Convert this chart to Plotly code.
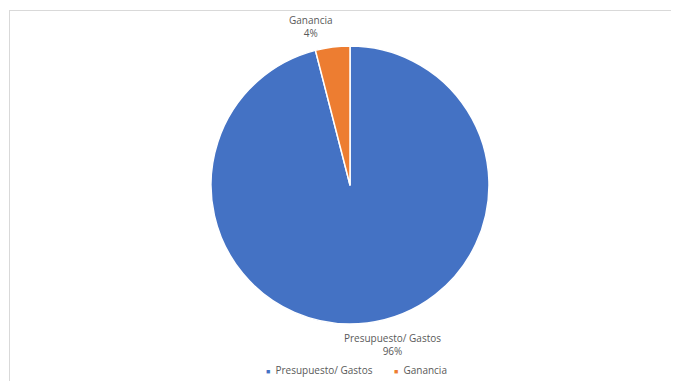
import plotly.graph_objects as go

labels = ["Presupuesto/ Gastos", "Ganancia"]
values = [96, 4]
colors = ["#4472C4", "#ED7D31"]

OFF = 8  # default page body margin
W, H = 679 - OFF, 381 - OFF
total = sum(values)
pcts = [f"{round(v / total * 100)}%" for v in values]


def px(x):
    return (x - OFF) / W


def py(y):
    return 1 - (y - OFF) / H


cx, cy, r = 350, 185, 139
fig = go.Figure(go.Pie(
    labels=labels,
    values=values,
    sort=False,
    direction="clockwise",
    rotation=0,
    marker=dict(colors=colors, line=dict(color="white", width=1.5)),
    textinfo="none",
    hoverinfo="label+percent",
    showlegend=False,
    domain=dict(x=[px(cx - r), px(cx + r)], y=[py(cy + r), py(cy - r)]),
))

font_color = "#595959"
fam = "Open Sans, Liberation Sans, sans-serif"
label_pos = [(392, 344), (311, 26)]
annotations = []
for lab, p, (lx, ly) in zip(labels, pcts, label_pos):
    annotations.append(dict(
        x=px(lx), y=py(ly), xref="paper", yref="paper",
        text=f"{lab}<br>{p}", showarrow=False,
        font=dict(family=fam, size=10, color=font_color),
        align="center", xanchor="center", yanchor="middle",
    ))

# legend entries (small square markers as in the original)
legend_x = [264, 392]
for lab, col, lx in zip(labels, colors, legend_x):
    annotations.append(dict(
        x=px(lx), y=py(370), xref="paper", yref="paper",
        text=f"<span style='color:{col};font-size:7px'>■</span>  {lab}",
        showarrow=False, font=dict(family=fam, size=10, color=font_color),
        xanchor="left", yanchor="middle",
    ))

fig.update_layout(
    width=W, height=H,
    margin=dict(l=0, r=0, t=0, b=0),
    paper_bgcolor="white", plot_bgcolor="white",
    font=dict(family=fam, size=10, color=font_color),
    showlegend=False,
    annotations=annotations,
    shapes=[
        dict(type="line", xref="paper", yref="paper", x0=px(9), x1=1, y0=py(10.5), y1=py(10.5),
             line=dict(color="#D9D9D9", width=1)),
        dict(type="line", xref="paper", yref="paper", x0=px(9.5), x1=px(9.5), y0=0, y1=py(10.5),
             line=dict(color="#D9D9D9", width=1)),
    ],
)

fig.write_html("out.html")
